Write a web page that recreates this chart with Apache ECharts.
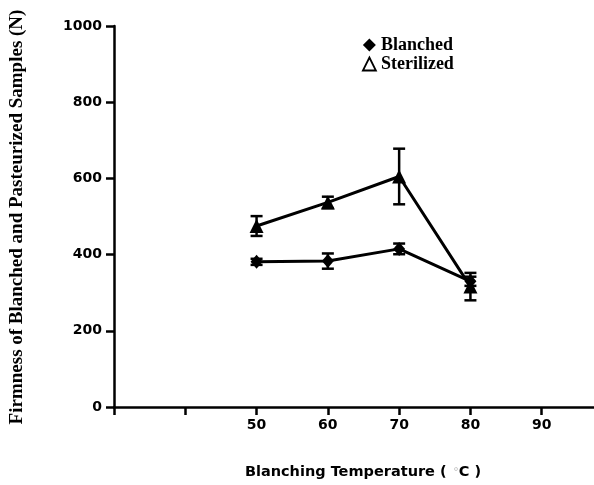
<!DOCTYPE html>
<html>
<head>
<meta charset="utf-8">
<style>
  html, body { margin: 0; padding: 0; background: #fff; }
  #chart { width: 594px; height: 485px; }
</style>
<script src="https://cdn.jsdelivr.net/npm/echarts@6/dist/echarts.min.js"></script>
</head>
<body>
<div id="chart"></div>
<script>
// Blanching temperature (°C)
const temps = [50, 60, 70, 80];
// Firmness (N), mean and error half-width
const blanched = [381, 383, 415, 330];
const blanchedErr = [8, 20, 14, 12];
const sterilized = [475, 537, 605, 316];
const sterilizedErr = [26, 15, 73, 36];
// Axis tick labels shown on the x axis
const xTickLabels = [50, 60, 70, 80, 90];

const sansFont = '"DejaVu Sans", Arial, sans-serif';
const serifFont = '"Liberation Serif", "Times New Roman", serif';

function pairs(vals) { return temps.map((t, i) => [t, vals[i]]); }
function errRows(vals, errs) { return temps.map((t, i) => [t, vals[i], errs[i]]); }

function errorBarItem(params, api) {
  const x = api.value(0), y = api.value(1), e = api.value(2);
  const top = api.coord([x, y + e]);
  const bot = api.coord([x, y - e]);
  const hw = 6;
  const style = { stroke: '#000', lineWidth: 2.5 };
  return {
    type: 'group',
    children: [
      { type: 'line', shape: { x1: top[0], y1: top[1], x2: bot[0], y2: bot[1] }, style },
      { type: 'line', shape: { x1: top[0] - hw, y1: top[1], x2: top[0] + hw, y2: top[1] }, style },
      { type: 'line', shape: { x1: bot[0] - hw, y1: bot[1], x2: bot[0] + hw, y2: bot[1] }, style }
    ]
  };
}

const chart = echarts.init(document.getElementById('chart'), null, { renderer: 'canvas' });
chart.setOption({
  animation: false,
  backgroundColor: '#fff',
  grid: { left: 114, top: 26, width: 499, bottom: 78, containLabel: false, outerBoundsMode: 'none' },
  legend: {
    orient: 'vertical',
    left: 357,
    top: 31,
    itemWidth: 13,
    itemHeight: 13,
    itemGap: 1,
    textStyle: { fontFamily: serifFont, fontWeight: 'bold', fontSize: 18, color: '#000' },
    data: [
      { name: 'Blanched', icon: 'diamond', itemStyle: { color: '#000', borderWidth: 0 } },
      { name: 'Sterilized', icon: 'triangle', itemStyle: { color: '#fff', borderColor: '#000', borderWidth: 1.8 } }
    ]
  },
  graphic: [
    {
      type: 'text',
      rotation: Math.PI / 2,
      x: 17, y: 217,
      style: {
        text: 'Firmness of Blanched and Pasteurized Samples (N)',
        font: 'bold 19px ' + serifFont,
        fill: '#000',
        align: 'center',
        verticalAlign: 'middle'
      }
    }
  ],
  xAxis: {
    type: 'value',
    min: 30,
    max: 100,
    interval: 10,
    name: '{t|Blanching Temperature (}  {d|°}{t|C )}',
    nameLocation: 'start',
    nameGap: -249,
    nameTextStyle: {
      align: 'center',
      verticalAlign: 'top',
      padding: [58, 0, 0, 0],
      rich: {
        t: { fontFamily: sansFont, fontWeight: 'bold', fontSize: 14.5, color: '#000' },
        d: { fontFamily: sansFont, fontSize: 11, color: '#bbb' }
      }
    },
    splitLine: { show: false },
    axisLine: { lineStyle: { color: '#000', width: 2.5 } },
    axisTick: { inside: false, length: 8, lineStyle: { color: '#000', width: 2.5 } },
    axisLabel: {
      margin: 11,
      fontFamily: sansFont, fontWeight: 'bold', fontSize: 14, color: '#000',
      formatter: v => (xTickLabels.indexOf(v) >= 0 ? String(v) : '')
    }
  },
  yAxis: {
    type: 'value',
    min: 0,
    max: 1000,
    interval: 200,
    splitLine: { show: false },
    axisLine: { show: true, lineStyle: { color: '#000', width: 2.5 } },
    axisTick: { show: true, inside: false, length: 8, lineStyle: { color: '#000', width: 2.5 } },
    axisLabel: {
      margin: 12,
      fontFamily: sansFont, fontWeight: 'bold', fontSize: 14, color: '#000',
      formatter: v => String(v)
    }
  },
  series: [
    {
      name: 'Blanched',
      type: 'line',
      data: pairs(blanched),
      symbol: 'diamond',
      symbolSize: [12, 14],
      itemStyle: { color: '#000' },
      lineStyle: { color: '#000', width: 3 },
      z: 3
    },
    {
      name: 'Sterilized',
      type: 'line',
      data: pairs(sterilized),
      symbol: 'triangle',
      symbolSize: 14,
      itemStyle: { color: '#000' },
      lineStyle: { color: '#000', width: 3 },
      z: 3
    },
    {
      type: 'custom',
      renderItem: errorBarItem,
      data: errRows(blanched, blanchedErr),
      z: 4
    },
    {
      type: 'custom',
      renderItem: errorBarItem,
      data: errRows(sterilized, sterilizedErr),
      z: 4
    }
  ]
});
</script>
</body>
</html>
